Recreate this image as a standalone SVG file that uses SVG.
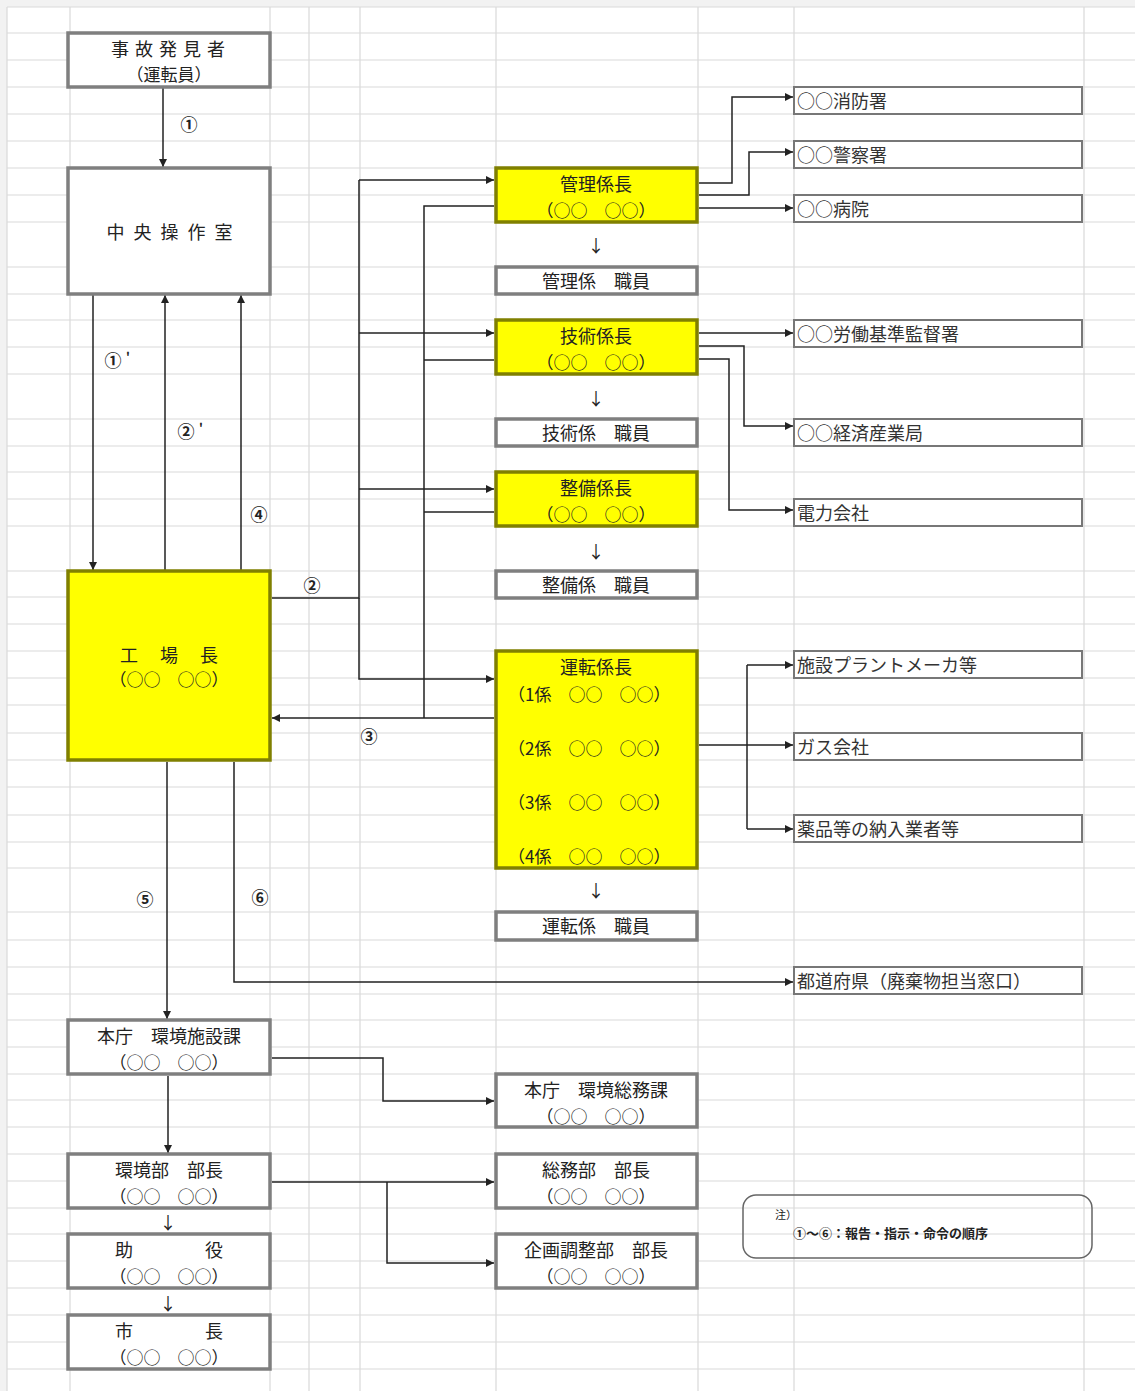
<svg xmlns="http://www.w3.org/2000/svg" width="1135" height="1391" viewBox="0 0 1135 1391">
<defs>
<marker id="ah" viewBox="0 0 10 10" refX="10" refY="5" markerWidth="9" markerHeight="8" markerUnits="userSpaceOnUse" orient="auto"><path d="M0,0 L10,5 L0,10 z" fill="#222"/></marker>
</defs>
<style>
.g{stroke:#d9d9d9;stroke-width:1.2;fill:none}
.bw{fill:#fff;stroke:#7f7f7f;stroke-width:3.5}
.by{fill:#ffff00;stroke:#808000;stroke-width:3.5}
.br{fill:#fff;stroke:#777;stroke-width:2}
.t{font-family:"Noto Sans CJK JP","Noto Sans",sans-serif;font-size:18px;fill:#222;text-anchor:middle}
.s{font-family:"Noto Sans CJK JP","Noto Sans",sans-serif;font-size:17px;fill:#222;text-anchor:middle}
.r{font-family:"Noto Sans CJK JP","Noto Sans",sans-serif;font-size:18px;fill:#333}
.n{font-family:"Noto Sans CJK JP","Noto Sans",sans-serif;font-size:17px;font-weight:bold;fill:#222;text-anchor:middle}
.c{fill:none;stroke:#222;stroke-width:1.5}
.ca{fill:none;stroke:#222;stroke-width:1.5;marker-end:url(#ah)}
</style>
<rect x="0" y="0" width="1135" height="1391" fill="#fff"/>
<rect x="0" y="0" width="7" height="1391" fill="#f2f2f2"/>
<rect x="0" y="0" width="1135" height="7" fill="#f2f2f2"/>
<g id="grid" class="g">
<path d="M7,7V1391M70,7V1391M270,7V1391M309,7V1391M360,7V1391M496,7V1391M698,7V1391M794,7V1391M1084,7V1391"/>
<path d="M7,7H1135M7,33H1135M7,60H1135M7,87H1135M7,114H1135M7,141H1135M7,168H1135M7,195H1135M7,222H1135M7,267H1135M7,294H1135M7,320H1135M7,347H1135M7,374H1135M7,419H1135M7,446H1135M7,472H1135M7,499H1135M7,526H1135M7,571H1135M7,597H1135M7,624H1135M7,651H1135M7,678H1135M7,705H1135M7,733H1135M7,760H1135M7,787H1135M7,815H1135M7,842H1135M7,868H1135M7,912H1135M7,940H1135M7,967H1135M7,994H1135M7,1020H1135M7,1047H1135M7,1074H1135M7,1100H1135M7,1127H1135M7,1154H1135M7,1181H1135M7,1208H1135M7,1234H1135M7,1261H1135M7,1288H1135M7,1315H1135M7,1342H1135M7,1369H1135"/>
</g>

<g id="connectors">
<path class="ca" d="M163,87V167"/>
<path class="ca" d="M93,295V570"/>
<path class="ca" d="M165,571V295"/>
<path class="ca" d="M241,571V295"/>
<path class="c" d="M272,598H359V180"/>
<path class="ca" d="M359,180H494"/>
<path class="ca" d="M359,333H494"/>
<path class="ca" d="M359,489H494"/>
<path class="ca" d="M359,598V679H494"/>
<path class="c" d="M494,206H424V718"/>
<path class="c" d="M494,360H424"/>
<path class="c" d="M494,512H424"/>
<path class="ca" d="M494,718H272"/>
<path class="ca" d="M699,183H732V97H793"/>
<path class="ca" d="M699,195H749V152H793"/>
<path class="ca" d="M699,208H793"/>
<path class="ca" d="M699,333H793"/>
<path class="ca" d="M699,346H744V426H793"/>
<path class="ca" d="M699,359H729V510H793"/>
<path class="ca" d="M699,745H793"/>
<path class="c" d="M747,665V829"/>
<path class="ca" d="M747,665H793"/>
<path class="ca" d="M747,829H793"/>
<path class="ca" d="M167,762V1019"/>
<path class="ca" d="M234,762V982H793"/>
<path class="ca" d="M272,1058H383V1101H494"/>
<path class="ca" d="M168,1076V1153"/>
<path class="ca" d="M272,1182H494"/>
<path class="ca" d="M387,1182V1263H494"/>
<text class="n" x="189" y="131">①</text>
<text class="n" x="113" y="367">①</text><text class="n" x="128" y="361" style="font-size:12px">'</text>
<text class="n" x="186" y="438">②</text><text class="n" x="201" y="432" style="font-size:12px">'</text>
<text class="n" x="259" y="521">④</text>
<text class="n" x="312" y="592">②</text>
<text class="n" x="369" y="743">③</text>
<text class="n" x="145" y="906">⑤</text>
<text class="n" x="260" y="904">⑥</text>
</g>

<g id="n-hakken"><rect class="bw" x="68" y="33" width="202" height="54"/><text class="t" x="171" y="56" letter-spacing="6">事故発見者</text><text class="s" x="169" y="81">（運転員）</text></g>
<g id="n-chuo"><rect class="bw" x="68" y="168" width="202" height="126"/><text class="t" x="174" y="239" letter-spacing="9">中央操作室</text></g>
<g id="n-kojo"><rect class="by" x="68" y="571" width="202" height="189"/><text class="t" x="169" y="662">工　 場　 長</text><text class="s" x="169" y="686">（○○　○○）</text></g>

<g id="n-kanri"><rect class="by" x="496" y="168" width="201" height="54"/><text class="t" x="596" y="191">管理係長</text><text class="s" x="596" y="217">（○○　○○）</text></g>
<text class="s" x="596" y="252">↓</text>
<g id="n-kanri-s"><rect class="bw" x="496" y="267" width="201" height="27"/><text class="t" x="596" y="288">管理係　職員</text></g>
<g id="n-gijutsu"><rect class="by" x="496" y="320" width="201" height="54"/><text class="t" x="596" y="343">技術係長</text><text class="s" x="596" y="369">（○○　○○）</text></g>
<text class="s" x="596" y="405">↓</text>
<g id="n-gijutsu-s"><rect class="bw" x="496" y="419" width="201" height="27"/><text class="t" x="596" y="440">技術係　職員</text></g>
<g id="n-seibi"><rect class="by" x="496" y="472" width="201" height="54"/><text class="t" x="596" y="495">整備係長</text><text class="s" x="596" y="521">（○○　○○）</text></g>
<text class="s" x="596" y="558">↓</text>
<g id="n-seibi-s"><rect class="bw" x="496" y="571" width="201" height="27"/><text class="t" x="596" y="592">整備係　職員</text></g>
<g id="n-unten"><rect class="by" x="496" y="651" width="201" height="217"/><text class="t" x="596" y="674">運転係長</text>
<text class="s" x="508" y="701" style="text-anchor:start">（1係　○○　○○）</text>
<text class="s" x="508" y="755" style="text-anchor:start">（2係　○○　○○）</text>
<text class="s" x="508" y="809" style="text-anchor:start">（3係　○○　○○）</text>
<text class="s" x="508" y="863" style="text-anchor:start">（4係　○○　○○）</text></g>
<text class="s" x="596" y="897">↓</text>
<g id="n-unten-s"><rect class="bw" x="496" y="912" width="201" height="28"/><text class="t" x="596" y="933">運転係　職員</text></g>

<g id="n-shobo"><rect class="br" x="794" y="87" width="288" height="27"/><text class="r" x="797" y="108">○○消防署</text></g>
<g id="n-keisatsu"><rect class="br" x="794" y="141" width="288" height="27"/><text class="r" x="797" y="162">○○警察署</text></g>
<g id="n-byoin"><rect class="br" x="794" y="195" width="288" height="27"/><text class="r" x="797" y="216">○○病院</text></g>
<g id="n-rodo"><rect class="br" x="794" y="320" width="288" height="27"/><text class="r" x="797" y="341">○○労働基準監督署</text></g>
<g id="n-keizai"><rect class="br" x="794" y="419" width="288" height="27"/><text class="r" x="797" y="440">○○経済産業局</text></g>
<g id="n-denryoku"><rect class="br" x="794" y="499" width="288" height="27"/><text class="r" x="797" y="520">電力会社</text></g>
<g id="n-plant"><rect class="br" x="794" y="651" width="288" height="27"/><text class="r" x="797" y="672">施設プラントメーカ等</text></g>
<g id="n-gas"><rect class="br" x="794" y="733" width="288" height="27"/><text class="r" x="797" y="754">ガス会社</text></g>
<g id="n-yakuhin"><rect class="br" x="794" y="815" width="288" height="27"/><text class="r" x="797" y="836">薬品等の納入業者等</text></g>
<g id="n-todofuken"><rect class="br" x="794" y="967" width="288" height="27"/><text class="r" x="797" y="988">都道府県（廃棄物担当窓口）</text></g>

<g id="n-shisetsu"><rect class="bw" x="68" y="1020" width="202" height="54"/><text class="t" x="169" y="1043">本庁　環境施設課</text><text class="s" x="169" y="1069">（○○　○○）</text></g>
<g id="n-somuka"><rect class="bw" x="496" y="1074" width="201" height="53"/><text class="t" x="596" y="1097">本庁　環境総務課</text><text class="s" x="596" y="1123">（○○　○○）</text></g>
<g id="n-kankyo"><rect class="bw" x="68" y="1154" width="202" height="54"/><text class="t" x="169" y="1177">環境部　部長</text><text class="s" x="169" y="1203">（○○　○○）</text></g>
<g id="n-somubu"><rect class="bw" x="496" y="1154" width="201" height="54"/><text class="t" x="596" y="1177">総務部　部長</text><text class="s" x="596" y="1203">（○○　○○）</text></g>
<text class="s" x="168" y="1229">↓</text>
<g id="n-joyaku"><rect class="bw" x="68" y="1234" width="202" height="54"/><text class="t" x="169" y="1257">助　　　　役</text><text class="s" x="169" y="1283">（○○　○○）</text></g>
<g id="n-kikaku"><rect class="bw" x="496" y="1234" width="201" height="54"/><text class="t" x="596" y="1257">企画調整部　部長</text><text class="s" x="596" y="1283">（○○　○○）</text></g>
<text class="s" x="168" y="1310">↓</text>
<g id="n-shicho"><rect class="bw" x="68" y="1315" width="202" height="54"/><text class="t" x="169" y="1338">市　　　　長</text><text class="s" x="169" y="1364">（○○　○○）</text></g>

<g id="n-note"><rect x="743" y="1195" width="349" height="63" rx="13" fill="none" stroke="#666" stroke-width="1.5"/>
<text x="775" y="1219" style="font-family:'Noto Sans CJK JP',sans-serif;font-size:11px;fill:#222">注）</text>
<text x="793" y="1238" style="font-family:'Noto Sans CJK JP',sans-serif;font-size:13px;font-weight:bold;fill:#222">①～⑥：報告・指示・命令の順序</text></g>
</svg>
